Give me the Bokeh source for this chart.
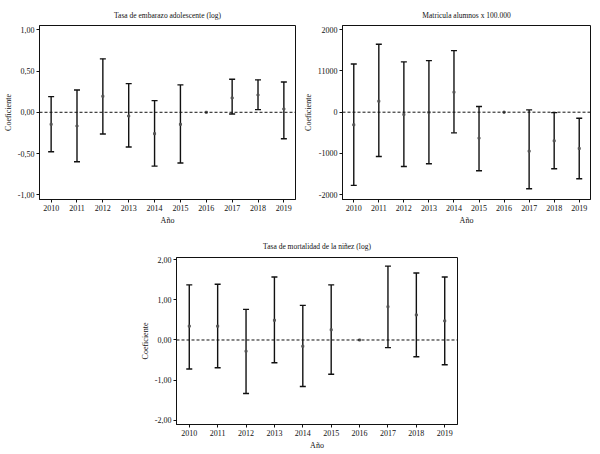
from bokeh.plotting import figure
from bokeh.layouts import column, row, Spacer
from bokeh.models import FixedTicker, ColumnDataSource, Span
from bokeh.embed import file_html
from bokeh.resources import INLINE

years = [2010, 2011, 2012, 2013, 2014, 2015, 2016, 2017, 2018, 2019]

# Tasa de embarazo adolescente (log)
emb_coef = [-0.146, -0.166, 0.194, -0.045, -0.259, -0.146, 0.0, 0.174, 0.21, 0.04]
emb_low = [-0.478, -0.60, -0.263, -0.421, -0.652, -0.615, 0.0, -0.02, 0.032, -0.32]
emb_high = [0.19, 0.27, 0.648, 0.348, 0.142, 0.332, 0.0, 0.40, 0.393, 0.368]

# Matricula alumnos x 100.000
mat_coef = [-306, 266, -56, -5, 484, -629, 0, -944, -694, -879]
mat_low = [-1774, -1073, -1315, -1250, -500, -1419, 0, -1855, -1371, -1613]
mat_high = [1169, 1645, 1218, 1250, 1492, 137, 0, 56, -10, -145]

# Tasa de mortalidad de la niñez (log)
mor_coef = [0.344, 0.344, -0.279, 0.49, -0.156, 0.254, 0.0, 0.828, 0.623, 0.475]
mor_low = [-0.72, -0.689, -1.328, -0.566, -1.156, -0.852, 0.0, -0.19, -0.418, -0.615]
mor_high = [1.369, 1.385, 0.762, 1.566, 0.86, 1.369, 0.0, 1.836, 1.664, 1.566]

emb_ticks = [-1.0, -0.5, 0.0, 0.5, 1.0]
emb_labels = ["-1,00", "-0,50", "0,00", "0,50", "1,00"]
mat_ticks = [-2000, -1000, 0, 1000, 2000]
mat_labels = ["-2000", "-1000", "0", "11000", "2000"]
mor_ticks = [-2.0, -1.0, 0.0, 1.0, 2.0]
mor_labels = ["-2,00", "-1,00", "0,00", "1,00", "2,00"]

FONT = "Liberation Serif"


def make_panel(title, coef, low, high, ticks, labels, yr, fw, fh, bl, br, bt, bb, ts):
    p = figure(title=title, frame_width=fw, frame_height=fh,
               x_range=(2009.55, 2019.45), y_range=yr,
               output_backend="svg", toolbar_location=None,
               min_border_left=bl, min_border_right=br,
               min_border_top=bt, min_border_bottom=bb)
    p.title.align = "center"
    p.title.text_font = FONT
    p.title.text_font_size = "7.5px"
    p.title.text_font_style = "normal"
    p.title.text_color = "#111111"
    p.title.standoff = ts
    p.outline_line_color = "#111111"
    p.outline_line_width = 1
    p.xgrid.visible = False
    p.ygrid.visible = False
    p.background_fill_color = "white"
    p.border_fill_color = "white"

    for ax in (p.xaxis[0], p.yaxis[0]):
        ax.axis_line_color = "#111111"
        ax.major_tick_line_color = "#111111"
        ax.minor_tick_line_color = None
        ax.major_tick_in = 0
        ax.major_tick_out = 3
        ax.major_label_text_font = FONT
        ax.major_label_text_font_size = "8px"
        ax.major_label_text_color = "#111111"
        ax.axis_label_text_font = FONT
        ax.axis_label_text_font_size = "8px"
        ax.axis_label_text_font_style = "normal"
        ax.axis_label_text_color = "#111111"
        ax.major_label_standoff = 2
        ax.axis_label_standoff = 2

    p.xaxis.ticker = FixedTicker(ticks=years)
    p.yaxis.ticker = FixedTicker(ticks=ticks)
    p.yaxis.major_label_overrides = {t: l for t, l in zip(ticks, labels)}
    p.xaxis.axis_label = "Año"
    p.yaxis.axis_label = "Coeficiente"

    p.add_layout(Span(location=0, dimension="width", line_color="#111111",
                      line_width=1, line_dash="3 2"))

    yb = [y for y, lo, hi in zip(years, low, high) if hi != lo]
    lb = [lo for lo, hi in zip(low, high) if hi != lo]
    hb = [hi for lo, hi in zip(low, high) if hi != lo]
    src = ColumnDataSource(dict(x=yb, lo=lb, hi=hb))
    p.segment(x0="x", y0="lo", x1="x", y1="hi", source=src,
              line_color="#111111", line_width=1.4)
    p.scatter(x="x", y="lo", source=src, marker="dash", size=6,
              line_color="#111111", line_width=1.4)
    p.scatter(x="x", y="hi", source=src, marker="dash", size=6,
              line_color="#111111", line_width=1.4)
    p.scatter(x=years, y=coef, marker="square", size=2,
              fill_color="#555555", line_color="#555555")
    return p


p1 = make_panel("Tasa de embarazo adolescente (log)", emb_coef, emb_low, emb_high,
                emb_ticks, emb_labels, (-1.057, 1.052), 256, 174, 32, 5, 25, 33, 12)
p2 = make_panel("Matricula alumnos x 100.000", mat_coef, mat_low, mat_high,
                mat_ticks, mat_labels, (-2115, 2100), 248, 174, 40, 3, 25, 33, 12)
p3 = make_panel("Tasa de mortalidad de la niñez (log)", mor_coef, mor_low, mor_high,
                mor_ticks, mor_labels, (-2.1, 2.05), 281, 167, 32, 3, 25, 22, 14)

layout = column(row(p1, p2), row(Spacer(width=137, height=10), p3))

open("out.html", "w").write(file_html(layout, INLINE))
